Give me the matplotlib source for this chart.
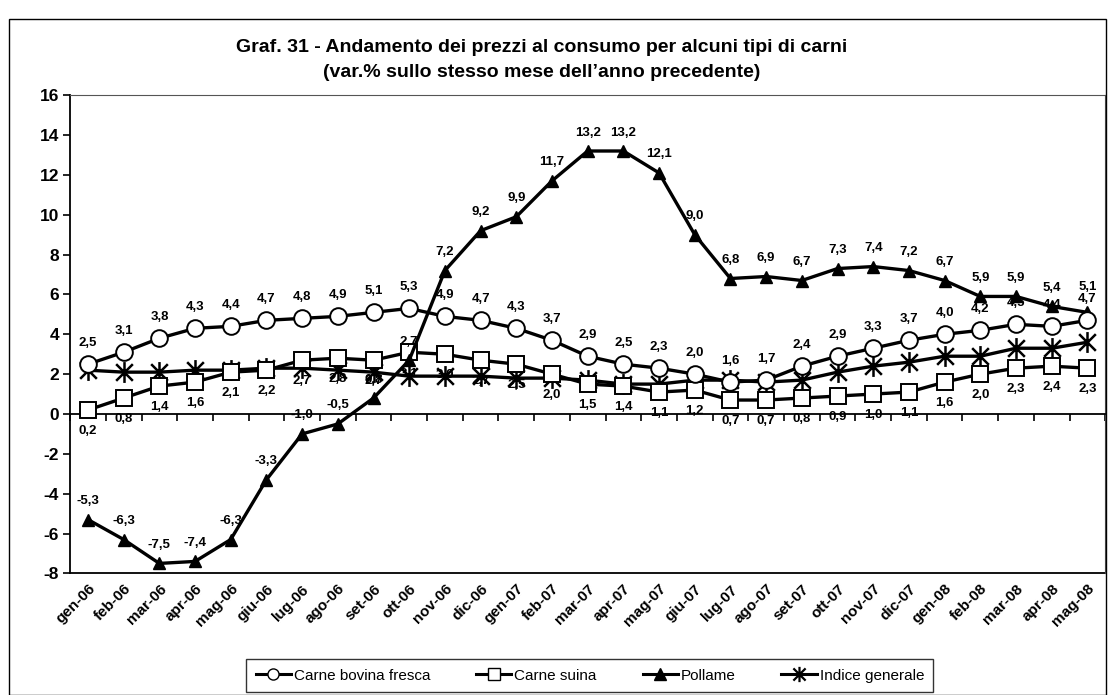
import matplotlib
matplotlib.use("Agg")
import matplotlib.pyplot as plt
from matplotlib.lines import Line2D
from matplotlib.patches import Rectangle
from matplotlib.path import Path

plt.rcParams['font.family'] = ['Liberation Sans', 'DejaVu Sans']

months = ["gen-06", "feb-06", "mar-06", "apr-06", "mag-06", "giu-06", "lug-06", "ago-06",
          "set-06", "ott-06", "nov-06", "dic-06", "gen-07", "feb-07", "mar-07", "apr-07",
          "mag-07", "giu-07", "lug-07", "ago-07", "set-07", "ott-07", "nov-07", "dic-07",
          "gen-08", "feb-08", "mar-08", "apr-08", "mag-08"]

bovina = [2.5, 3.1, 3.8, 4.3, 4.4, 4.7, 4.8, 4.9, 5.1, 5.3, 4.9, 4.7,
          4.3, 3.7, 2.9, 2.5, 2.3, 2.0, 1.6, 1.7, 2.4, 2.9, 3.3, 3.7,
          4.0, 4.2, 4.5, 4.4, 4.7]
suina = [0.2, 0.8, 1.4, 1.6, 2.1, 2.2, 2.7, 2.8, 2.7, 3.1, 3.0, 2.7,
         2.5, 2.0, 1.5, 1.4, 1.1, 1.2, 0.7, 0.7, 0.8, 0.9, 1.0, 1.1,
         1.6, 2.0, 2.3, 2.4, 2.3]
pollame = [-5.3, -6.3, -7.5, -7.4, -6.3, -3.3, -1.0, -0.5, 0.8, 2.7, 7.2, 9.2,
           9.9, 11.7, 13.2, 13.2, 12.1, 9.0, 6.8, 6.9, 6.7, 7.3, 7.4, 7.2,
           6.7, 5.9, 5.9, 5.4, 5.1]
indice = [2.2, 2.1, 2.1, 2.2, 2.2, 2.3, 2.3, 2.2, 2.1, 1.9, 1.9, 1.9,
          1.8, 1.8, 1.7, 1.5, 1.5, 1.7, 1.7, 1.6, 1.7, 2.1, 2.4, 2.6,
          2.9, 2.9, 3.3, 3.3, 3.6]

series_names = ["Carne bovina fresca", "Carne suina", "Pollame", "Indice generale"]
yticks = list(range(-8, 17, 2))

# Excel-style asterisk: X plus vertical bar
ast = Path([(0, -1), (0, 1), (-0.8, -0.8), (0.8, 0.8), (-0.8, 0.8), (0.8, -0.8)],
           [Path.MOVETO, Path.LINETO, Path.MOVETO, Path.LINETO, Path.MOVETO, Path.LINETO])

fig = plt.figure(figsize=(11.13, 6.95), dpi=100)
ax = fig.add_axes([0.063, 0.175, 0.930, 0.688])

x = list(range(len(months)))
lw = 2.4
ax.plot(x, indice, color='black', lw=lw, marker=ast, ms=15, mew=1.8, zorder=3)
ax.plot(x, suina, color='black', lw=lw, marker='s', ms=11, mfc='white', mec='black', mew=1.4, zorder=4)
ax.plot(x, pollame, color='black', lw=lw, marker='^', ms=9, mfc='black', mec='black', zorder=5)
ax.plot(x, bovina, color='black', lw=lw, marker='o', ms=12, mfc='white', mec='black', mew=1.4, zorder=6)

def fmt(v):
    return f"{v:.1f}".replace('.', ',')

lab_kw = dict(ha='center', fontsize=9.5, fontweight='bold', zorder=7)
n = len(months)
for i, v in enumerate(bovina):
    ax.annotate(fmt(v), (i, v), xytext=(0, 11), textcoords='offset points', va='bottom', **lab_kw)
for i, v in enumerate(suina):
    ax.annotate(fmt(v), (i, v), xytext=(0, -11), textcoords='offset points', va='top', **lab_kw)
for i, v in enumerate(pollame):
    dy = 14 if i == n - 1 else 9
    ax.annotate(fmt(v), (i, v), xytext=(0, dy), textcoords='offset points', va='bottom', **lab_kw)

ax.set_xlim(-0.5, n - 0.5)
ax.set_ylim(-8, 16)
ax.set_yticks(yticks)
ax.set_yticklabels([str(t) for t in yticks], fontsize=12.5, fontweight='bold')
ax.tick_params(axis='y', direction='out', length=5, width=1.2, pad=3)

ax.spines['bottom'].set_position(('data', 0))
ax.spines['bottom'].set_linewidth(1.3)
ax.set_xticks([i - 0.5 for i in range(n + 1)])
ax.set_xticklabels([])
ax.tick_params(axis='x', direction='out', length=5, width=1.2)

sec = ax.secondary_xaxis(0)
sec.set_xticks(x)
sec.set_xticklabels(months, rotation=45, ha='right', rotation_mode='anchor',
                    fontsize=11, fontweight='bold')
sec.tick_params(length=0, pad=6)
sec.spines['bottom'].set_linewidth(1.3)

ax.spines['left'].set_linewidth(1.3)
for s in ['top', 'right']:
    ax.spines[s].set_linewidth(0.8)
    ax.spines[s].set_color('#555555')

fig.text(0.487, 0.931, "Graf. 31 - Andamento dei prezzi al consumo per alcuni tipi di carni",
         ha='center', va='center', fontsize=14, fontweight='bold')
fig.text(0.487, 0.895, "(var.% sullo stesso mese dell\u2019anno precedente)",
         ha='center', va='center', fontsize=14, fontweight='bold')

handles = [
    Line2D([], [], color='black', lw=2.2, marker='o', ms=8, mfc='white', mec='black'),
    Line2D([], [], color='black', lw=2.2, marker='s', ms=8, mfc='white', mec='black'),
    Line2D([], [], color='black', lw=2.2, marker='^', ms=8, mfc='black'),
    Line2D([], [], color='black', lw=2.2, marker=ast, ms=11, mew=1.6),
]
leg = fig.legend(handles, series_names, loc='center', bbox_to_anchor=(0.530, 0.028),
                 ncol=4, fontsize=11, frameon=True, fancybox=False, edgecolor='black',
                 handlelength=2.3, handletextpad=0.2, columnspacing=3.0,
                 borderpad=0.6)
leg.get_frame().set_linewidth(1.0)

fig.patches.append(Rectangle((0.008, 0.0), 0.986, 0.972, transform=fig.transFigure,
                             fill=False, edgecolor='black', lw=1.0))

fig.savefig("out.png", dpi=100)
